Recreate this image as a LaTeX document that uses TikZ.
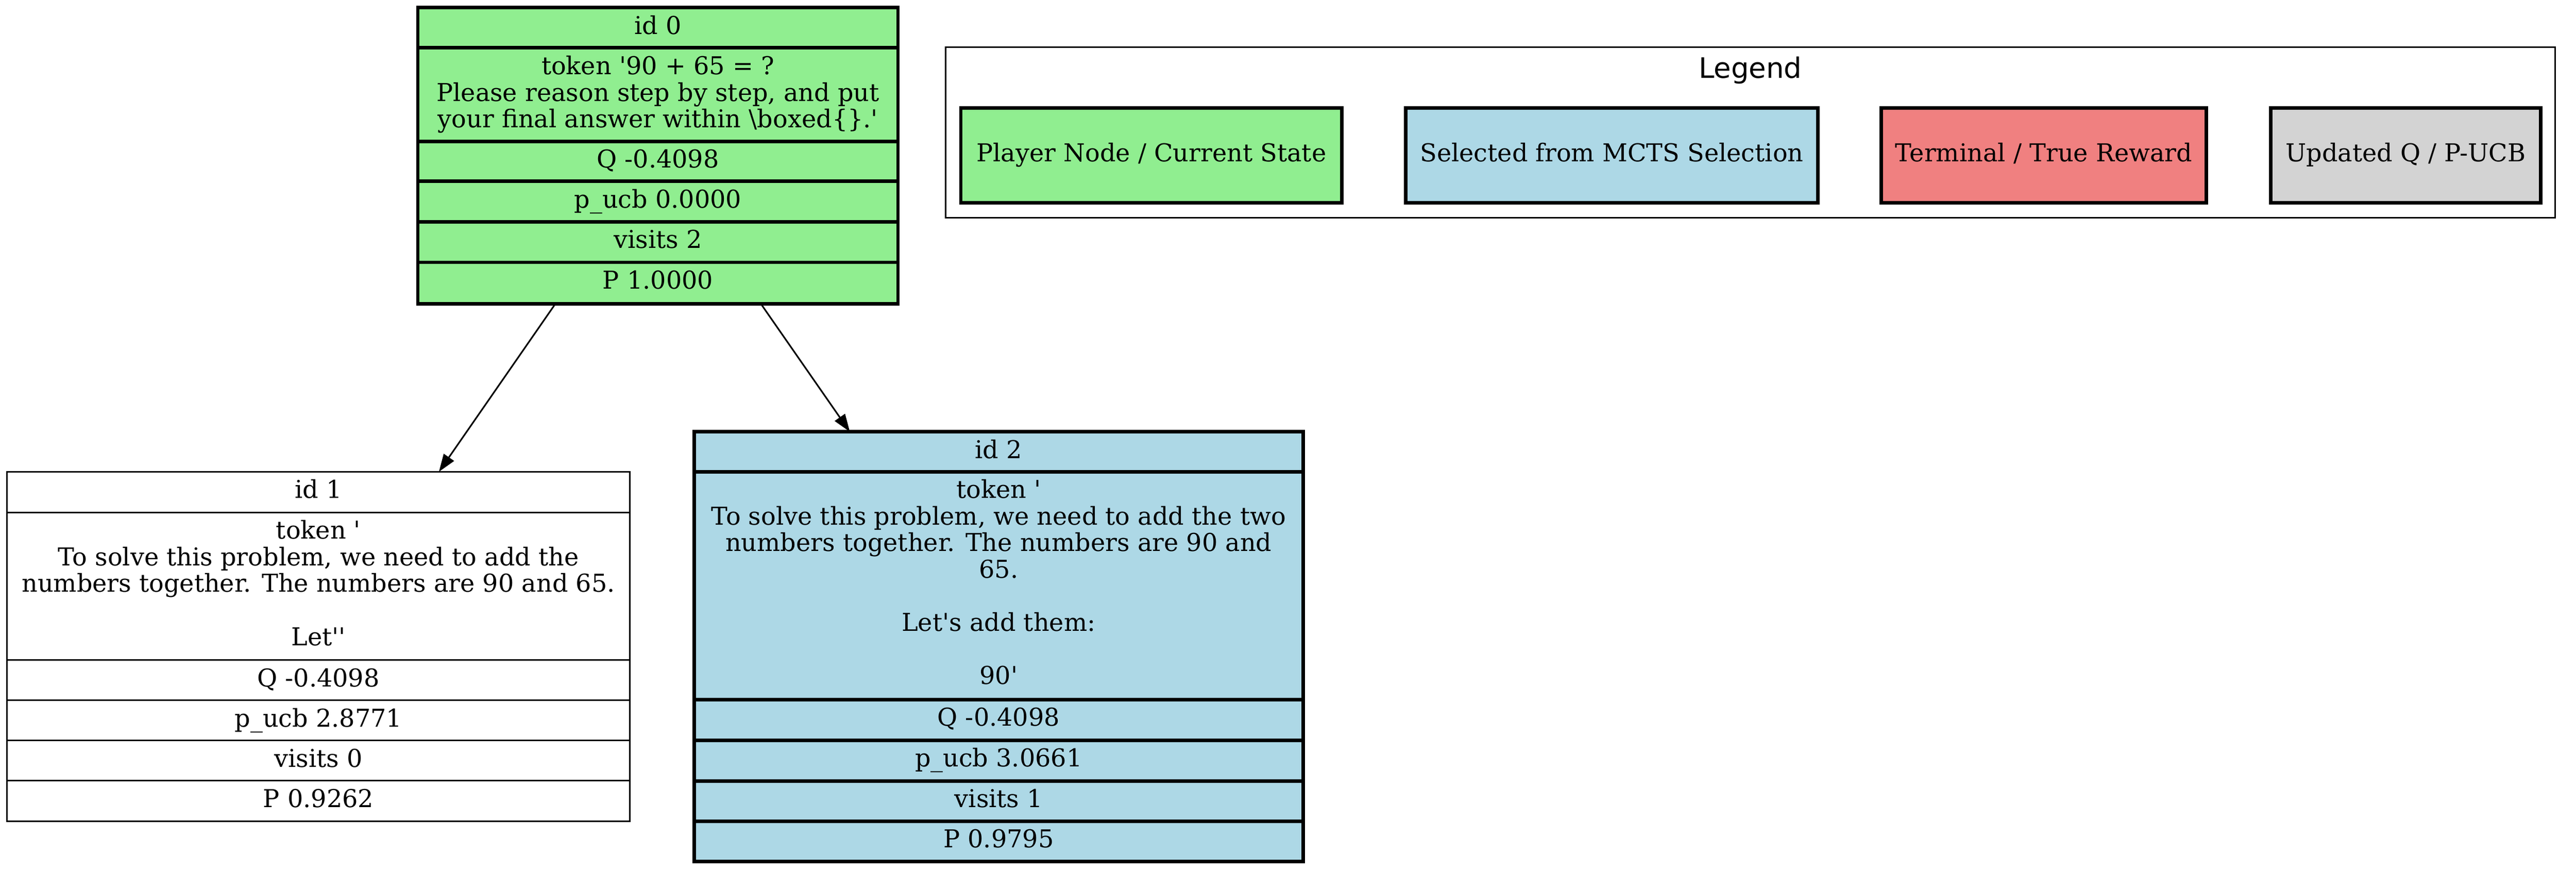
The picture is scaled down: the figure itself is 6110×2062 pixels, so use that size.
\documentclass[tikz,border=0pt]{standalone}
\usepackage{fontspec}
\setmainfont{DejaVu Serif}
\newfontfamily\legendfont{DejaVu Sans}
\usetikzlibrary{arrows.meta}
\definecolor{lgreen}{HTML}{90EE90}
\definecolor{lblue}{HTML}{ADD8E6}
\definecolor{lcoral}{HTML}{F08080}
\definecolor{lgray}{HTML}{D3D3D3}
\newcommand{\q}{\textquotesingle}
\begin{document}
\begin{tikzpicture}[x=0.24pt,y=-0.24pt,
  rec/.style={rectangle,inner sep=0pt,outer sep=0pt},
  thickrec/.style={rec,draw,line width=2pt},
  thinrec/.style={rec,draw,line width=0.9pt},
  septhick/.style={line width=2pt},
  septhin/.style={line width=0.9pt},
  txt/.style={anchor=base,inner sep=0pt,font=\fontsize{14}{15}\selectfont},
  legbox/.style={thickrec,text height=10.5pt,text depth=3.5pt,minimum height=54pt,font=\fontsize{14}{15}\selectfont},
  edgearrow/.style={draw,line width=0.9pt,-{Triangle[length=10pt,width=7pt]}},
]
\useasboundingbox (0,0) rectangle (6110,2062);

% ---------- record nodes ----------
\node[thickrec,fill=lgreen,minimum width=273.36pt,minimum height=168.48pt] (n0) at (1560.5,369) {};
\node[thinrec,fill=white,minimum width=354.6pt,minimum height=198.84pt] (n1) at (755.25,1532.75) {};
\node[thickrec,fill=lblue,minimum width=346.58pt,minimum height=244.63pt] (n2) at (2368.65,1533.35) {};

% separators
\foreach \yy in {113,335,430,526,622}
  \draw[septhick] (n0.west |- 0,\yy) -- (n0.east |- 0,\yy);
\foreach \yy in {1215,1565,1660,1755.5,1851}
  \draw[septhin] (n1.west |- 0,\yy) -- (n1.east |- 0,\yy);
\foreach \yy in {1118.6,1658.5,1755.4,1851.6,1947}
  \draw[septhick] (n2.west |- 0,\yy) -- (n2.east |- 0,\yy);

% texts node 0
\node[txt] (t0a) at (1560.5,81) {id 0};
\node[txt] (t0b) at (1560.5,177) {token \q 90 + 65 = ?};
\node[txt] (t0c) at (1560.5,240) {Please reason step by step, and put};
\node[txt] (t0d) at (1560.5,303) {your final answer within \textbackslash boxed\{\}.\q};
\node[txt] (t0e) at (1560.5,398) {Q -0.4098};
\node[txt] (t0f) at (1560.5,493) {p\_ucb 0.0000};
\node[txt] (t0g) at (1560.5,589) {visits 2};
\node[txt] (t0h) at (1560.5,685) {P 1.0000};

% texts node 1
\node[txt] (t1a) at (755.25,1181.5) {id 1};
\node[txt] (t1b) at (755.25,1278) {token \q};
\node[txt] (t1c) at (755.25,1341) {To solve this problem, we need to add the};
\node[txt] (t1d) at (755.25,1404) {numbers together. The numbers are 90 and 65.};
\node[txt] (t1e) at (755.25,1530) {Let\q\q};
\node[txt] (t1f) at (755.25,1628) {Q -0.4098};
\node[txt] (t1g) at (755.25,1723) {p\_ucb 2.8771};
\node[txt] (t1h) at (755.25,1818.5) {visits 0};
\node[txt] (t1i) at (755.25,1914) {P 0.9262};

% texts node 2
\node[txt] (t2a) at (2368.65,1086.7) {id 2};
\node[txt] (t2b) at (2368.65,1181) {token \q};
\node[txt] (t2c) at (2368.65,1244) {To solve this problem, we need to add the two};
\node[txt] (t2d) at (2368.65,1307) {numbers together. The numbers are 90 and};
\node[txt] (t2e) at (2368.65,1370) {65.};
\node[txt] (t2f) at (2368.65,1496) {Let\q s add them:};
\node[txt] (t2g) at (2368.65,1622) {90\q};
\node[txt] (t2h) at (2368.65,1721.5) {Q -0.4098};
\node[txt] (t2i) at (2368.65,1818) {p\_ucb 3.0661};
\node[txt] (t2j) at (2368.65,1914.5) {visits 1};
\node[txt] (t2k) at (2368.65,2010) {P 0.9795};

% edges
\draw[edgearrow] (n0) -- (n1);
\draw[edgearrow] (n0) -- (n2);

% ---------- legend ----------
\node[thinrec,minimum width=916.08pt,minimum height=97.08pt] (lg) at (4151.5,314.25) {};
\node[anchor=base,inner sep=0pt,font=\legendfont\fontsize{16}{18}\selectfont] (lgt) at (4151.5,185) {Legend};
\node[legbox,fill=lgreen,minimum width=216.96pt] (lg1) at (2731,368.5) {Player Node / Current State};
\node[legbox,fill=lblue,minimum width=234.72pt] (lg2) at (3823,368.5) {Selected from MCTS Selection};
\node[legbox,fill=lcoral,minimum width=185.04pt] (lg3) at (4847.5,368.5) {Terminal / True Reward};
\node[legbox,fill=lgray,minimum width=153.6pt] (lg4) at (5706,368.5) {Updated Q / P-UCB};
\end{tikzpicture}
\end{document}
